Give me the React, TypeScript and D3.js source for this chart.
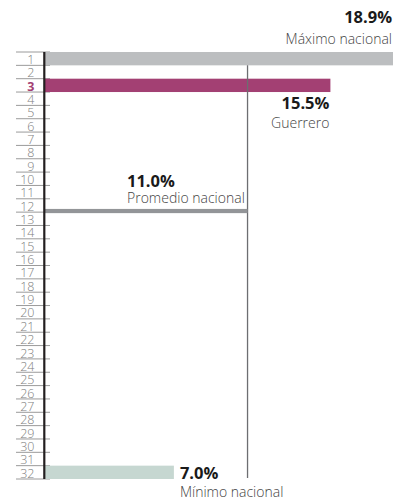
import React from "react";
import * as d3 from "d3";

const ranks: number[] = d3.range(1, 33);
const highlightRank = 3;
const maxValue = 18.9;
const maxRank = 1;
const stateValue = 15.5;
const stateName = "Guerrero";
const avgValue = 11.0;
const minValue = 7.0;
const minRank = 32;
const labelMax = "Máximo nacional";
const labelAvg = "Promedio nacional";
const labelMin = "Mínimo nacional";

const W = 400;
const H = 500;
const FONT = "'Open Sans', sans-serif";

export default function App() {
  const x = d3.scaleLinear().domain([0, maxValue]).range([45, 393]);
  const y = d3
    .scaleBand<number>()
    .domain(ranks)
    .range([52, 479])
    .padding(0);
  const bw = y.bandwidth();
  const fmt = (v: number) => d3.format(".1f")(v) + "%";

  const bars = [
    { rank: maxRank, value: maxValue, color: "#bcbec0" },
    { rank: highlightRank, value: stateValue, color: "#a34073" },
    { rank: minRank, value: minValue, color: "#c6d7d1" },
  ];

  const boldSize = 16.5;
  const lightSize = 14;

  return (
    <svg
      width={W}
      height={H}
      style={{ position: "absolute", left: 0, top: 0 }}
      fontFamily={FONT}
    >
      <rect width={W} height={H} fill="#fff" />
      {/* separator lines */}
      <line x1={16} x2={50} y1={y(1)!} y2={y(1)!} stroke="#9a9a9a" strokeWidth={1} />
      {ranks.map((r) => (
        <line
          key={"s" + r}
          x1={16}
          x2={50}
          y1={y(r)! + bw}
          y2={y(r)! + bw}
          stroke="#9a9a9a"
          strokeWidth={1}
        />
      ))}
      {/* rank labels */}
      {ranks.map((r) => (
        <text
          key={"l" + r}
          x={34.5}
          y={y(r)! + bw - 1.4}
          textAnchor="end"
          fontSize={12.5}
          fontWeight={r === highlightRank ? 700 : 300}
          fill={r === highlightRank ? "#a34073" : "#808080"}
        >
          {r}
        </text>
      ))}
      {/* bars */}
      {bars.map((b) => (
        <rect
          key={"b" + b.rank}
          x={x(0)}
          y={y(b.rank)!}
          width={x(b.value) - x(0)}
          height={bw}
          fill={b.color}
        />
      ))}
      {/* average vertical line */}
      <line
        x1={x(avgValue)}
        x2={x(avgValue)}
        y1={y(2)!}
        y2={y(minRank)! + bw - 1}
        stroke="#6d6e71"
        strokeWidth={1.3}
      />
      {/* average horizontal line */}
      <rect
        x={x(0)}
        y={y(13)! - 3.2}
        width={x(avgValue) - x(0)}
        height={4.2}
        fill="#939598"
      />
      {/* axis */}
      <line x1={44.3} x2={44.3} y1={52} y2={479} stroke="#231f20" strokeWidth={2.2} />

      {/* annotations */}
      <text x={392} y={23} textAnchor="end" fontSize={boldSize} fontWeight={700} fill="#1a1a1a">
        {fmt(maxValue)}
      </text>
      <text x={392} y={44} textAnchor="end" fontSize={lightSize} fontWeight={300} fill="#444">
        {labelMax}
      </text>

      <text x={x(stateValue) - 1} y={108.5} textAnchor="end" fontSize={boldSize} fontWeight={700} fill="#1a1a1a">
        {fmt(stateValue)}
      </text>
      <text x={x(stateValue) - 1} y={127.5} textAnchor="end" fontSize={lightSize} fontWeight={300} fill="#444">
        {stateName}
      </text>

      <text x={127} y={187} fontSize={boldSize} fontWeight={700} fill="#1a1a1a">
        {fmt(avgValue)}
      </text>
      <text x={127} y={202.5} fontSize={lightSize} fontWeight={300} fill="#444">
        {labelAvg}
      </text>

      <text x={x(minValue) + 6} y={479} fontSize={boldSize} fontWeight={700} fill="#1a1a1a">
        {fmt(minValue)}
      </text>
      <text x={x(minValue) + 6} y={497} fontSize={lightSize} fontWeight={300} fill="#444">
        {labelMin}
      </text>
    </svg>
  );
}
